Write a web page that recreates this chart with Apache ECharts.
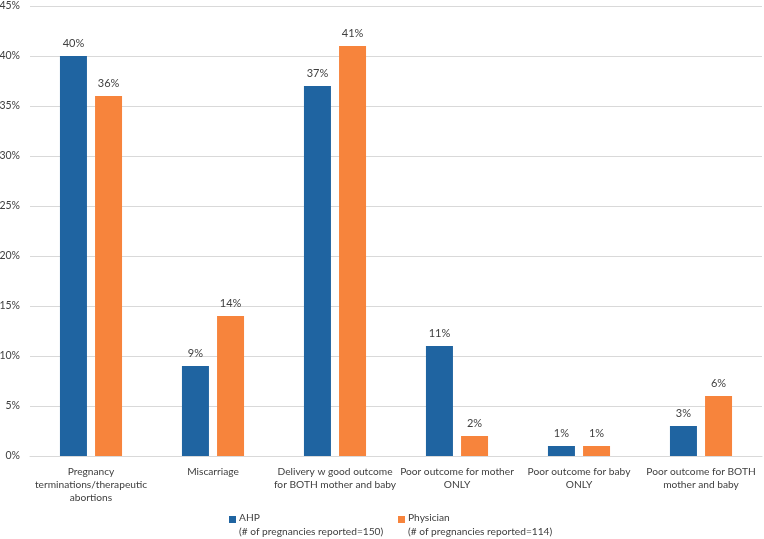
<!DOCTYPE html>
<html>
<head>
<meta charset="utf-8">
<script src="https://cdn.jsdelivr.net/npm/echarts@6/dist/echarts.min.js"></script>
<style>
  html, body { margin: 0; padding: 0; background: #fff; }
  #chart { width: 764px; height: 539px; }
</style>
</head>
<body>
<div id="chart"></div>
<script>
const categories = [
  "Pregnancy\nterminations/therapeutic\nabortions",
  "Miscarriage",
  "Delivery w good outcome\nfor BOTH mother and baby",
  "Poor outcome for mother\nONLY",
  "Poor outcome for baby\nONLY",
  "Poor outcome for BOTH\nmother and baby"
];
const ahpValues = [40, 9, 37, 11, 1, 3];
const physicianValues = [36, 14, 41, 2, 1, 6];
const seriesNames = ["AHP", "Physician"];
const seriesNotes = ["(# of pregnancies reported=150)", "(# of pregnancies reported=114)"];
const yTicks = { min: 0, max: 45, interval: 5 };

const font = "Lato, 'Open Sans', sans-serif";
// square on the first text line: tiny second subpath stretches the box downwards
const legendIcon = "path://M0,0H10V10H0Z M0,26H0.01V26.01H0Z";

const chart = echarts.init(document.getElementById("chart"));

const labelOpt = {
  show: true,
  position: "top",
  distance: 7,
  formatter: "{c}%",
  color: "#404040",
  fontSize: 11,
  fontFamily: font
};

function legendFor(i, left) {
  return {
    data: [seriesNames[i]],
    left: left,
    top: 511,
    padding: 0,
    icon: legendIcon,
    itemWidth: 7,
    itemHeight: 19,
    itemGap: 0,
    formatter: name => name + "\n" + seriesNotes[i],
    textStyle: {
      color: "#404040",
      fontSize: 10.2,
      fontFamily: font,
      lineHeight: 14,
      padding: [0, 0, 0, -2]
    }
  };
}

chart.setOption({
  animation: false,
  grid: { left: 30, right: 2, top: 6, bottom: 83, outerBoundsMode: "none", containLabel: false },
  legend: [legendFor(0, 229), legendFor(1, 398)],
  xAxis: {
    type: "category",
    data: categories,
    axisLine: { lineStyle: { color: "#d9d9d9" } },
    axisTick: { show: false },
    axisLabel: {
      interval: 0,
      color: "#404040",
      fontSize: 10.2,
      fontFamily: font,
      lineHeight: 13,
      margin: 9
    }
  },
  yAxis: {
    type: "value",
    min: yTicks.min,
    max: yTicks.max,
    interval: yTicks.interval,
    axisLine: { show: false },
    axisTick: { show: false },
    splitLine: { lineStyle: { color: "#d9d9d9" } },
    axisLabel: {
      formatter: "{value}%",
      color: "#404040",
      fontSize: 10.5,
      fontFamily: font,
      margin: 10
    }
  },
  series: [
    {
      name: seriesNames[0],
      type: "bar",
      data: ahpValues,
      barWidth: 27,
      barGap: "30%",
      itemStyle: { color: "#1f64a1" },
      label: labelOpt
    },
    {
      name: seriesNames[1],
      type: "bar",
      data: physicianValues,
      barWidth: 27,
      itemStyle: { color: "#f7843c" },
      label: labelOpt
    }
  ]
});
</script>
</body>
</html>
